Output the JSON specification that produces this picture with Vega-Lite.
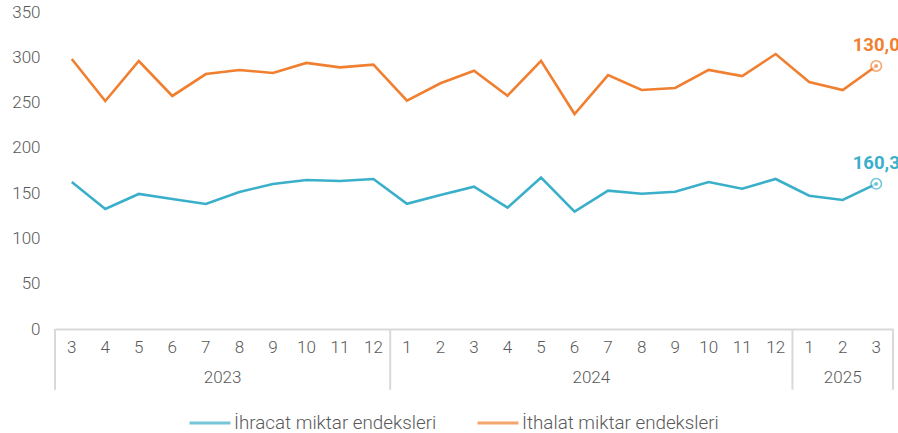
{
  "$schema": "https://vega.github.io/schema/vega-lite/v6.json",
  "autosize": {"type": "none"},
  "width": 838,
  "height": 317,
  "padding": {"left": 55, "top": 12, "right": 5, "bottom": 104},
  "background": "white",
  "config": {
    "view": {"stroke": null},
    "font": "Roboto",
    "axis": {"labelFont": "Roboto", "labelFontWeight": 300, "labelColor": "#595959", "labelFontSize": 17}
  },
  "datasets": {
    "series": [
      {"k": "2023-3", "s": "İhracat miktar endeksleri", "v": 162.3},
      {"k": "2023-4", "s": "İhracat miktar endeksleri", "v": 132.5},
      {"k": "2023-5", "s": "İhracat miktar endeksleri", "v": 149.1},
      {"k": "2023-6", "s": "İhracat miktar endeksleri", "v": 143.5},
      {"k": "2023-7", "s": "İhracat miktar endeksleri", "v": 138.0},
      {"k": "2023-8", "s": "İhracat miktar endeksleri", "v": 151.3},
      {"k": "2023-9", "s": "İhracat miktar endeksleri", "v": 160.1},
      {"k": "2023-10", "s": "İhracat miktar endeksleri", "v": 164.5},
      {"k": "2023-11", "s": "İhracat miktar endeksleri", "v": 163.4},
      {"k": "2023-12", "s": "İhracat miktar endeksleri", "v": 165.6},
      {"k": "2024-1", "s": "İhracat miktar endeksleri", "v": 138.3},
      {"k": "2024-2", "s": "İhracat miktar endeksleri", "v": 148.0},
      {"k": "2024-3", "s": "İhracat miktar endeksleri", "v": 157.1},
      {"k": "2024-4", "s": "İhracat miktar endeksleri", "v": 133.9},
      {"k": "2024-5", "s": "İhracat miktar endeksleri", "v": 167.1},
      {"k": "2024-6", "s": "İhracat miktar endeksleri", "v": 129.5},
      {"k": "2024-7", "s": "İhracat miktar endeksleri", "v": 152.7},
      {"k": "2024-8", "s": "İhracat miktar endeksleri", "v": 149.4},
      {"k": "2024-9", "s": "İhracat miktar endeksleri", "v": 151.6},
      {"k": "2024-10", "s": "İhracat miktar endeksleri", "v": 162.3},
      {"k": "2024-11", "s": "İhracat miktar endeksleri", "v": 154.9},
      {"k": "2024-12", "s": "İhracat miktar endeksleri", "v": 165.6},
      {"k": "2025-1", "s": "İhracat miktar endeksleri", "v": 147.2},
      {"k": "2025-2", "s": "İhracat miktar endeksleri", "v": 142.4},
      {"k": "2025-3", "s": "İhracat miktar endeksleri", "v": 160.3, "lbl": "160,3"},
      {"k": "2023-3", "s": "İthalat miktar endeksleri", "v": 298.1},
      {"k": "2023-4", "s": "İthalat miktar endeksleri", "v": 251.7},
      {"k": "2023-5", "s": "İthalat miktar endeksleri", "v": 295.9},
      {"k": "2023-6", "s": "İthalat miktar endeksleri", "v": 257.3},
      {"k": "2023-7", "s": "İthalat miktar endeksleri", "v": 281.5},
      {"k": "2023-8", "s": "İthalat miktar endeksleri", "v": 286.0},
      {"k": "2023-9", "s": "İthalat miktar endeksleri", "v": 282.7},
      {"k": "2023-10", "s": "İthalat miktar endeksleri", "v": 293.8},
      {"k": "2023-11", "s": "İthalat miktar endeksleri", "v": 288.9},
      {"k": "2023-12", "s": "İthalat miktar endeksleri", "v": 291.8},
      {"k": "2024-1", "s": "İthalat miktar endeksleri", "v": 252.1},
      {"k": "2024-2", "s": "İthalat miktar endeksleri", "v": 271.3},
      {"k": "2024-3", "s": "İthalat miktar endeksleri", "v": 285.2},
      {"k": "2024-4", "s": "İthalat miktar endeksleri", "v": 257.6},
      {"k": "2024-5", "s": "İthalat miktar endeksleri", "v": 296.2},
      {"k": "2024-6", "s": "İthalat miktar endeksleri", "v": 237.4},
      {"k": "2024-7", "s": "İthalat miktar endeksleri", "v": 280.4},
      {"k": "2024-8", "s": "İthalat miktar endeksleri", "v": 263.9},
      {"k": "2024-9", "s": "İthalat miktar endeksleri", "v": 266.1},
      {"k": "2024-10", "s": "İthalat miktar endeksleri", "v": 286.0},
      {"k": "2024-11", "s": "İthalat miktar endeksleri", "v": 279.3},
      {"k": "2024-12", "s": "İthalat miktar endeksleri", "v": 303.6},
      {"k": "2025-1", "s": "İthalat miktar endeksleri", "v": 272.7},
      {"k": "2025-2", "s": "İthalat miktar endeksleri", "v": 263.9},
      {"k": "2025-3", "s": "İthalat miktar endeksleri", "v": 290.4, "lbl": "130,0"}
    ],
    "years": [
      {"k": "2023-7", "year": "2023", "yv": -54},
      {"k": "2024-6", "year": "2024", "yv": -54}
    ],
    "years2": [
      {"k": "2025-2", "year": "2025", "yv": -54}
    ],
    "seps": [
      {"k": "2023-3", "y0": 0, "y1": -67},
      {"k": "2024-1", "y0": 0, "y1": -67},
      {"k": "2025-1", "y0": 0, "y1": -67}
    ],
    "sepEnd": [
      {"k": "2025-3", "y0": 0, "y1": -67}
    ]
  },
  "layer": [
    {
      "data": {"name": "series"},
      "mark": {"type": "line", "strokeWidth": 2.6, "strokeJoin": "miter", "clip": false},
      "encoding": {
        "x": {
          "field": "k", "type": "ordinal", "sort": null,
          "scale": {"type": "band", "paddingInner": 0, "paddingOuter": 0},
          "axis": {
            "title": null,
            "labelExpr": "split(datum.value, '-')[1]",
            "labelAngle": 0,
            "labelPadding": 10,
            "ticks": false,
            "domainColor": "#D9D9D9",
            "domainWidth": 2,
            "labelBaseline": "top"
          }
        },
        "y": {
          "field": "v", "type": "quantitative",
          "scale": {"domain": [0, 350], "nice": false, "zero": true},
          "axis": {
            "title": null,
            "values": [0, 50, 100, 150, 200, 250, 300, 350],
            "grid": false,
            "domain": false,
            "ticks": false,
            "labelPadding": 15
          }
        },
        "color": {
          "field": "s", "type": "nominal",
          "scale": {"domain": ["İhracat miktar endeksleri", "İthalat miktar endeksleri"], "range": ["#3AAFC9", "#F07F2F"]},
          "legend": {
            "title": null,
            "orient": "none",
            "direction": "horizontal",
            "legendX": 133,
            "legendY": 389,
            "symbolType": "stroke",
            "symbolSize": 1681,
            "symbolStrokeWidth": 3,
            "labelFont": "Roboto",
            "labelFontWeight": 300,
            "labelFontSize": 18.8,
            "labelColor": "#595959",
            "labelOffset": 2,
            "labelLimit": 400,
            "columnPadding": 34
          }
        }
      }
    },
    {
      "data": {"name": "series"},
      "transform": [{"filter": "datum.k == '2025-3'"}],
      "mark": {"type": "point", "shape": "circle", "filled": true, "fill": "white", "size": 110, "strokeWidth": 1.6, "clip": false},
      "encoding": {
        "x": {"field": "k", "type": "ordinal", "sort": null},
        "y": {"field": "v", "type": "quantitative"},
        "stroke": {"field": "s", "type": "nominal", "scale": {"domain": ["İhracat miktar endeksleri", "İthalat miktar endeksleri"], "range": ["#3AAFC9", "#F07F2F"]}, "legend": null}
      }
    },
    {
      "data": {"name": "series"},
      "transform": [{"filter": "datum.k == '2025-3'"}],
      "mark": {"type": "point", "shape": "circle", "filled": true, "size": 14, "clip": false},
      "encoding": {
        "x": {"field": "k", "type": "ordinal", "sort": null},
        "y": {"field": "v", "type": "quantitative"},
        "color": {"field": "s", "type": "nominal"}
      }
    },
    {
      "data": {"name": "series"},
      "transform": [{"filter": "datum.k == '2025-3'"}],
      "mark": {"type": "text", "fontWeight": "bold", "fontSize": 18.5, "font": "Roboto", "dy": -21, "baseline": "middle", "align": "center"},
      "encoding": {
        "x": {"field": "k", "type": "ordinal", "sort": null},
        "y": {"field": "v", "type": "quantitative"},
        "text": {"field": "lbl"},
        "color": {"field": "s", "type": "nominal"}
      }
    },
    {
      "data": {"name": "years"},
      "mark": {"type": "text", "fontSize": 17, "font": "Roboto", "fontWeight": 300, "color": "#595959", "baseline": "middle"},
      "encoding": {
        "x": {"field": "k", "type": "ordinal", "sort": null, "bandPosition": 1},
        "y": {"field": "yv", "type": "quantitative"},
        "text": {"field": "year"}
      }
    },
    {
      "data": {"name": "years2"},
      "mark": {"type": "text", "fontSize": 17, "font": "Roboto", "fontWeight": 300, "color": "#595959", "baseline": "middle"},
      "encoding": {
        "x": {"field": "k", "type": "ordinal", "sort": null, "bandPosition": 0.5},
        "y": {"field": "yv", "type": "quantitative"},
        "text": {"field": "year"}
      }
    },
    {
      "data": {"name": "seps"},
      "mark": {"type": "rule", "color": "#D9D9D9", "strokeWidth": 2},
      "encoding": {
        "x": {"field": "k", "type": "ordinal", "sort": null, "bandPosition": 0},
        "y": {"field": "y0", "type": "quantitative"},
        "y2": {"field": "y1"}
      }
    },
    {
      "data": {"name": "sepEnd"},
      "mark": {"type": "rule", "color": "#D9D9D9", "strokeWidth": 2},
      "encoding": {
        "x": {"field": "k", "type": "ordinal", "sort": null, "bandPosition": 1},
        "y": {"field": "y0", "type": "quantitative"},
        "y2": {"field": "y1"}
      }
    }
  ]
}
